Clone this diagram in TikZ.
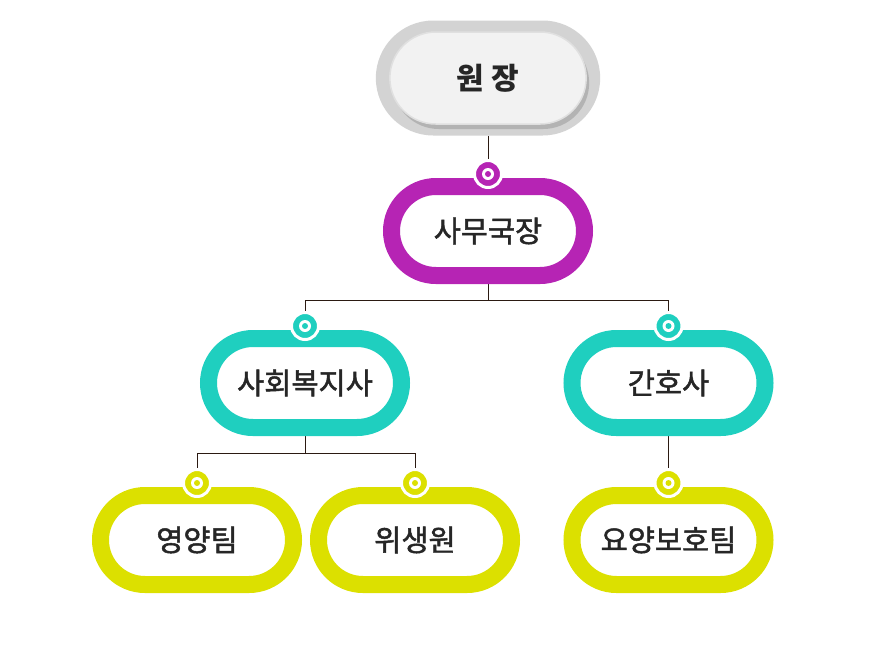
\documentclass[tikz,border=0pt]{standalone}
\usepackage{fontspec}
\setmainfont{Noto Sans CJK KR}
\newfontfamily\labelfont{Noto Sans CJK KR}[FakeBold=1.6]
\usepackage{xcolor}
\definecolor{Orchid}{HTML}{B624B4}
\definecolor{Turquoise}{HTML}{1FCFBF}
\definecolor{Lime}{HTML}{DCE000}
\definecolor{Silver}{HTML}{D3D3D3}
\definecolor{Smoke}{HTML}{F2F2F2}
\definecolor{Umber}{HTML}{2B1A12}
\colorlet{cMagenta}{Orchid}
\colorlet{cTeal}{Turquoise}
\colorlet{cLime}{Lime}
\usepackage{tikz}
\usetikzlibrary{positioning, shapes.misc, shadows, backgrounds}
\tikzset{
	x=1pt,
	y=-1pt,
	font=\labelfont\fontsize{29.5}{34}\selectfont,
	box/.style={
		rounded rectangle,
		draw=#1,
		line width=17pt,
		fill=white,
		minimum width=193pt,
		minimum height=89pt,
		inner sep=0pt,
		text=black!85
	},
	port/.style={
		circle,
		fill=#1,
		draw=white,
		line width=3pt,
		minimum size=27pt,
		inner sep=0pt,
		path picture={
			\fill[white] (path picture bounding box.center) circle (6pt);
			\fill[#1] (path picture bounding box.center) circle (3pt);
		}
	},
	link/.style={
		draw=Umber,
		line width=1pt
	}
}

\begin{document}
\begin{tikzpicture}
	\useasboundingbox (0,0) rectangle (870,670);

	% head
	\node (chief) [rounded rectangle, fill=Silver, minimum width=231pt, minimum height=115pt] at (488,78) {};
	\node (chief-face) [rounded rectangle, fill=Smoke, draw=black!12, line width=1.5pt, minimum width=203pt, minimum height=92pt,
		drop shadow={shadow xshift=3pt, shadow yshift=-5pt, fill=black, opacity=.15},
		font=\fontsize{30}{34}\selectfont\bfseries, text=black!85] at (488,78) {원 장};

	\node (office) [box=cMagenta] at (488,231) {사무국장};
	\node (welfare) [box=cTeal] at (305,383) {사회복지사};
	\node (nurse) [box=cTeal] at (668.5,383) {간호사};
	\node (diet) [box=cLime] at (197,540) {영양팀};
	\node (hygiene) [box=cLime] at (415,540) {위생원};
	\node (care) [box=cLime] at (668.5,540) {요양보호팀};

	\foreach \b/\c in {office/cMagenta, welfare/cTeal, nurse/cTeal, diet/cLime, hygiene/cLime, care/cLime}
		\node (p-\b) [port=\c] at ([yshift=4pt]\b.north) {};

	\begin{scope}[on background layer]
		\draw[link] (chief) -- (p-office);
		\draw[link] (office.south) -- ++(0,16) coordinate (j1);
		\draw[link] (j1) -| (p-welfare) (j1) -| (p-nurse);
		\draw[link] (welfare.south) -- ++(0,17) coordinate (j2);
		\draw[link] (j2) -| (p-diet) (j2) -| (p-hygiene);
		\draw[link] (nurse) -- (p-care);
	\end{scope}
\end{tikzpicture}
\end{document}
